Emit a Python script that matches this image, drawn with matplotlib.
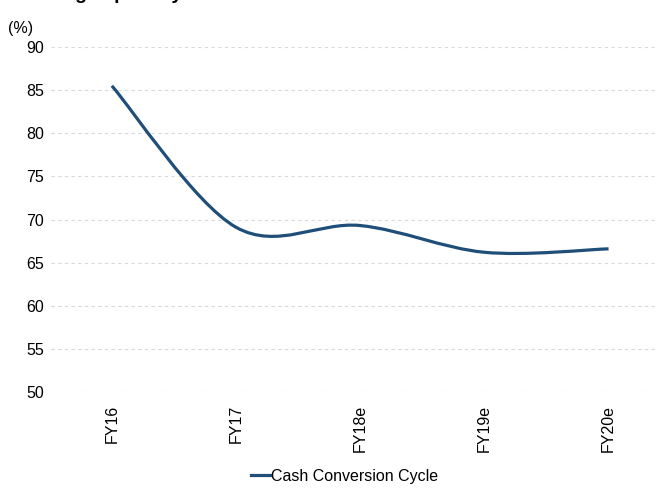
import matplotlib
matplotlib.use("Agg")
import matplotlib.pyplot as plt
from matplotlib.path import Path
from matplotlib.patches import PathPatch
from matplotlib.lines import Line2D

plt.rcParams['font.family'] = ['Liberation Sans', 'DejaVu Sans']

# cash conversion cycle, %
years = ['FY16', 'FY17', 'FY18e', 'FY19e', 'FY20e']
ccc = [85.5, 69.1, 69.3, 66.2, 66.6]
yticks = [50, 55, 60, 65, 70, 75, 80, 85, 90]

LINE_COLOR = '#1f4e79'


def smooth_path(xs, ys):
    # excel-style smoothed line: cubic bezier segments, tension 1/6
    n = len(xs)
    px = [xs[0]] + list(xs) + [xs[-1]]
    py = [ys[0]] + list(ys) + [ys[-1]]
    verts = [(xs[0], ys[0])]
    codes = [Path.MOVETO]
    for i in range(1, n):
        c1 = (px[i] + (px[i + 1] - px[i - 1]) / 6, py[i] + (py[i + 1] - py[i - 1]) / 6)
        c2 = (px[i + 1] - (px[i + 2] - px[i]) / 6, py[i + 1] - (py[i + 2] - py[i]) / 6)
        verts += [c1, c2, (px[i + 1], py[i + 1])]
        codes += [Path.CURVE4] * 3
    return Path(verts, codes)


fig = plt.figure(figsize=(6.58, 4.88), dpi=100)
ax = fig.add_axes([51 / 658, 1 - 392 / 488, (657 - 51) / 658, (392 - 47) / 488])

xs = list(range(len(years)))
patch = PathPatch(smooth_path(xs, ccc), facecolor='none', edgecolor=LINE_COLOR,
                  lw=2.3, capstyle='butt', joinstyle='round', zorder=3)
ax.add_patch(patch)

ax.set_xlim(-0.49, 4.39)
ax.set_ylim(50, 90)
ax.set_yticks(yticks)
ax.set_xticks(xs)
ax.set_xticklabels(years, rotation=90, va='top', ha='center')
ax.tick_params(axis='both', length=0, labelsize=11.5, colors='#000000')
ax.tick_params(axis='y', pad=5)
ax.tick_params(axis='x', pad=9)
for s in ax.spines.values():
    s.set_visible(False)
ax.grid(axis='y', color='#d9d9d9', lw=0.8, linestyle=(0, (3, 3)))
ax.set_axisbelow(True)

fig.text(8 / 658, 1 - 28 / 488, '(%)', fontsize=11.5, ha='left', va='center')
# section heading, runs off the top edge
fig.text(24 / 658, 1 + 1 / 488, 'Strong capability', fontsize=14,
         fontweight='bold', ha='left', va='baseline')

handle = Line2D([], [], color=LINE_COLOR, lw=2.3)
fig.legend([handle], ['Cash Conversion Cycle'], loc='center',
           bbox_to_anchor=(345 / 658, 1 - 476 / 488), frameon=False,
           fontsize=11.5, handlelength=1.15, handletextpad=0.1,
           borderaxespad=0, borderpad=0)

fig.savefig('out.png', dpi=100)
